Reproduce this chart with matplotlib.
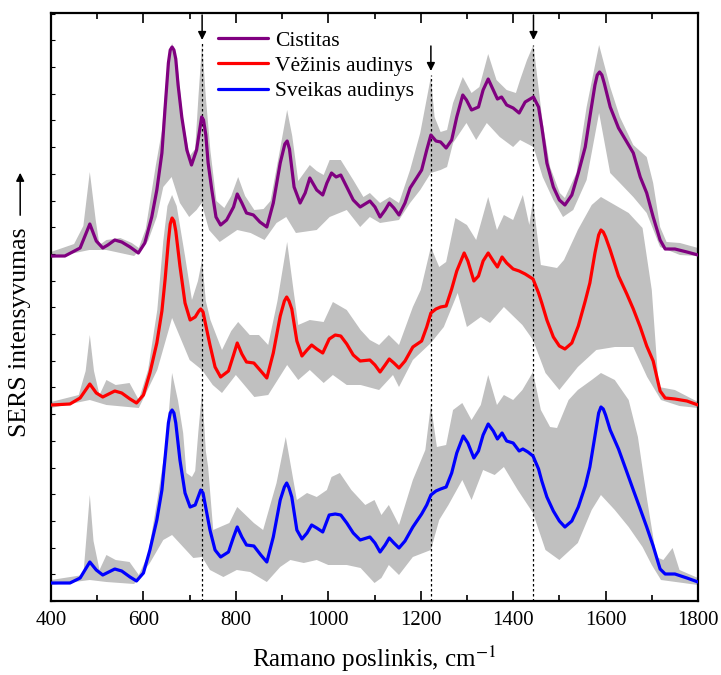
import numpy as np
import matplotlib
matplotlib.use("Agg")
import matplotlib.pyplot as plt
from matplotlib.patches import FancyArrowPatch
from matplotlib.ticker import MultipleLocator

plt.rcParams["font.family"] = ["Liberation Serif", "DejaVu Serif"]
plt.rcParams["mathtext.fontset"] = "stix"

# ── Data (arbitrary intensity units, spectra offset) ──
# Cistitas: mean spectrum, upper and lower edge of the grey band
cis_x = [400, 430, 463, 484, 498, 512, 523, 538, 553, 571, 589, 603, 618, 629, 640, 647, 654,
         658, 662, 666, 670, 675, 683, 694, 704, 715, 722, 726, 730, 735, 740, 748, 757, 767,
         780, 795, 803, 813, 823, 838, 852, 867, 881, 896, 906, 911, 916, 926, 939, 950, 960,
         975, 988, 997, 1007, 1017, 1027, 1040, 1054, 1069, 1090, 1101, 1112, 1123, 1132, 1142,
         1153, 1166, 1177, 1191, 1202, 1213, 1222, 1233, 1243, 1255, 1267, 1278, 1291, 1299,
         1310, 1325, 1335, 1346, 1357, 1366, 1375, 1386, 1400, 1413, 1426, 1444, 1455, 1462,
         1473, 1487, 1500, 1512, 1527, 1541, 1556, 1566, 1577, 1582, 1587, 1592, 1597, 1610,
         1628, 1646, 1660, 1675, 1689, 1703, 1718, 1729, 1750, 1776, 1800]
cis_y = [345, 345, 353, 377, 360, 353, 356, 361, 359, 354, 348, 358, 384, 411, 448, 494, 538,
         551, 554, 551, 542, 516, 484, 451, 436, 451, 472, 484, 481, 466, 438, 411, 384, 376,
         381, 394, 407, 398, 388, 386, 379, 374, 398, 438, 457, 460, 452, 414, 398, 408, 423,
         411, 406, 418, 428, 424, 426, 414, 401, 394, 400, 394, 384, 391, 398, 393,
         386, 398, 413, 423, 431, 451, 466, 460, 459, 453, 461, 484, 506, 501,
         491, 494, 511, 522, 511, 502, 504, 496, 493, 488, 499, 504, 494, 474,
         438, 414, 401, 396, 406, 428, 454, 484, 516, 526, 529, 526, 518, 494,
         473, 459, 448, 424, 408, 384, 361, 352, 352, 349, 346]
cis_up_x = [400, 450, 470, 484, 497, 505, 520, 550, 575, 590, 605, 627, 640, 650, 662, 675, 686,
            700, 712, 719, 727, 735, 745, 758, 775, 790, 805, 820, 840, 860, 875, 895, 911, 922,
            935, 960, 975, 990, 1003, 1027, 1054, 1076, 1090, 1112, 1133, 1153, 1177, 1199, 1222,
            1230, 1243, 1257, 1270, 1291, 1310, 1327, 1346, 1364, 1386, 1406, 1415, 1430, 1444,
            1464, 1480, 1501, 1512, 1537, 1559, 1586, 1610, 1631, 1660, 1689, 1703, 1718, 1732,
            1761, 1800]
cis_up_y = [349, 357, 375, 429, 380, 356, 361, 363, 358, 353, 372, 436, 470, 525, 558, 530, 480,
            445, 452, 504, 558, 504, 450, 400, 393, 405, 424, 405, 391, 392, 400, 450, 491, 465,
            420, 436, 430, 426, 441, 441, 421, 404, 408, 398, 404, 398, 431, 468, 524,
            484, 469, 471, 498, 524, 508, 514, 547, 521, 511, 508, 521, 541, 556,
            478, 434, 408, 403, 428, 494, 556, 514, 484, 456, 444, 418, 374, 359,
            358, 353]
cis_lo_x = [400, 483, 520, 580, 610, 629, 643, 661, 679, 699, 715, 726, 742, 765, 803, 832, 862,
            888, 909, 930, 975, 1003, 1040, 1069, 1090, 1112, 1153, 1177, 1199, 1222, 1243, 1257,
            1270, 1299, 1320, 1343, 1371, 1400, 1415, 1444, 1464, 1487, 1508, 1530, 1559, 1586,
            1610, 1631, 1660, 1689, 1718, 1761, 1800]
cis_lo_y = [343, 351, 351, 345, 360, 384, 414, 424, 398, 384, 391, 398, 371, 359, 371, 368, 361,
            378, 384, 368, 371, 384, 391, 374, 384, 378, 381, 398, 411, 428, 431, 434,
            458, 478, 461, 478, 464, 454, 461, 454, 424, 401, 384, 391, 421, 488,
            428, 418, 404, 388, 354, 346, 345]

# Vėžinis audinys
vez_x = [400, 441, 463, 484, 498, 512, 538, 553, 571, 585, 600, 614, 629, 640, 647, 654, 658,
         662, 666, 670, 679, 690, 701, 712, 720, 724, 729, 733, 744, 755, 767, 784, 795, 803,
         813, 823, 839, 854, 867, 881, 896, 905, 910, 915, 921, 932, 943, 954, 964, 975, 988,
         1002, 1015, 1027, 1040, 1054, 1069, 1090, 1101, 1112, 1123, 1132, 1142, 1153, 1166,
         1183, 1202, 1213, 1222, 1233, 1243, 1255, 1267, 1278, 1294, 1302, 1315, 1325, 1335,
         1346, 1357, 1366, 1376, 1386, 1400, 1413, 1426, 1443, 1455, 1462, 1473, 1487, 1500,
         1512, 1527, 1541, 1556, 1566, 1577, 1585, 1590, 1595, 1600, 1610, 1628, 1646, 1660,
         1675, 1689, 1703, 1718, 1729, 1750, 1776, 1800]
vez_y = [196, 197, 203, 217, 208, 204, 210, 208, 202, 198, 206, 228, 258, 290, 322, 360, 377,
         383, 380, 370, 335, 298, 281, 284, 290, 292, 289, 280, 256, 234, 224, 230, 246, 258,
         247, 239, 238, 230, 223, 248, 285, 300, 304, 300, 292, 260, 245, 251, 256, 252, 248,
         262, 266, 265, 257, 246, 240, 241, 236, 229, 236, 242, 238, 233, 240,
         254, 260, 274, 288, 292, 294, 295, 312, 330, 348, 340, 320, 325, 340,
         348, 340, 334, 344, 338, 332, 330, 327, 322, 308, 298, 281, 264, 255,
         252, 258, 275, 300, 318, 348, 366, 371, 369, 364, 351, 325, 307, 292,
         274, 255, 240, 210, 203, 202, 200, 196]
vez_up_x = [400, 460, 475, 484, 493, 505, 520, 540, 570, 590, 610, 630, 643, 652, 662, 672, 690,
            705, 718, 727, 735, 745, 770, 790, 805, 830, 850, 870, 890, 911, 925, 935, 960, 990,
            1010, 1040, 1070, 1090, 1110, 1131, 1153, 1183, 1200, 1222, 1240, 1255, 1275, 1300,
            1320, 1346, 1365, 1380, 1400, 1421, 1435, 1443, 1460, 1495, 1510, 1540, 1570, 1590,
            1620, 1650, 1680, 1700, 1715, 1750, 1800]
vez_up_y = [199, 206, 230, 266, 230, 206, 221, 216, 218, 201, 231, 291, 360, 395, 406, 395, 345,
            301, 320, 341, 300, 281, 251, 270, 279, 266, 266, 256, 300, 359, 310, 276, 281, 279,
            299, 291, 271, 261, 256, 266, 256, 294, 311, 354, 334, 339, 383, 376,
            361, 404, 371, 386, 381, 406, 376, 401, 336, 333, 341, 371, 396, 404,
            396, 388, 373, 311, 214, 211, 199]
vez_lo_x = [400, 484, 520, 590, 630, 662, 700, 727, 750, 770, 800, 840, 870, 911, 935, 960, 990,
            1010, 1040, 1070, 1110, 1140, 1153, 1183, 1222, 1250, 1280, 1300, 1330, 1350, 1380,
            1420, 1443, 1470, 1500, 1540, 1580, 1620, 1660, 1690, 1720, 1760, 1800]
vez_lo_y = [193, 201, 196, 193, 231, 283, 241, 231, 216, 208, 226, 204, 206, 236, 221, 231, 218,
            226, 216, 216, 211, 226, 214, 241, 258, 274, 308, 274, 284, 278, 294,
            276, 261, 228, 211, 234, 251, 254, 254, 224, 201, 195, 193]

# Sveikas audinys
sve_x = [400, 441, 463, 484, 498, 512, 538, 553, 571, 585, 600, 614, 629, 640, 647, 654, 658,
         662, 666, 670, 679, 690, 701, 712, 720, 724, 729, 733, 744, 755, 767, 784, 795, 803,
         813, 823, 839, 854, 867, 881, 896, 905, 910, 915, 921, 932, 943, 954, 964, 975, 988,
         1002, 1015, 1027, 1040, 1054, 1069, 1090, 1101, 1112, 1123, 1132, 1142, 1153, 1166,
         1183, 1202, 1213, 1222, 1233, 1243, 1255, 1267, 1278, 1292, 1302, 1315, 1325, 1335,
         1346, 1357, 1366, 1376, 1386, 1400, 1413, 1421, 1432, 1443, 1455, 1462, 1473, 1487,
         1500, 1512, 1527, 1541, 1556, 1566, 1577, 1585, 1590, 1595, 1600, 1610, 1628, 1646,
         1660, 1675, 1689, 1703, 1718, 1729, 1750, 1776, 1800]
sve_y = [18, 18, 23, 39, 31, 26, 32, 30, 24, 20, 28, 51, 81, 111, 144, 178, 188,
         191, 188, 178, 141, 108, 94, 96, 106, 111, 108, 98, 71, 51, 44, 49, 64, 74,
         64, 56, 55, 46, 39, 64, 101, 114, 118, 113, 104, 71, 62, 68, 76, 73, 69,
         86, 87, 86, 78, 68, 61, 64, 58, 49, 56, 63, 58, 53, 60,
         74, 87, 96, 106, 110, 112, 114, 128, 148, 165, 158, 143, 150, 166,
         177, 170, 162, 168, 160, 158, 150, 152, 149, 145, 132, 120, 104, 90,
         80, 74, 80, 94, 115, 134, 165, 188, 194, 192, 186, 171, 152, 129,
         111, 92, 74, 55, 32, 27, 27, 23, 19]
sve_up_x = [400, 470, 476, 484, 492, 505, 520, 540, 570, 590, 610, 630, 650, 662, 675, 686, 693,
            705, 712, 719, 727, 735, 740, 751, 786, 803, 839, 859, 888, 908, 932, 954, 975, 997,
            1007, 1025, 1050, 1080, 1100, 1115, 1131, 1153, 1183, 1210, 1222, 1235, 1255, 1270,
            1290, 1310, 1330, 1346, 1365, 1380, 1400, 1420, 1443, 1460, 1480, 1495, 1520, 1540,
            1570, 1590, 1620, 1650, 1670, 1690, 1710, 1725, 1745, 1760, 1800]
sve_up_y = [21, 26, 60, 106, 60, 31, 46, 41, 39, 26, 46, 101, 161, 228, 200, 168, 128,
            124, 130, 170, 210, 150, 134, 71, 78, 94, 78, 71, 118, 164, 101, 108, 104, 111,
            124, 128, 111, 96, 101, 86, 96, 76, 121, 151, 196, 154, 156, 191,
            198, 181, 196, 226, 196, 206, 201, 211, 229, 191, 174, 173, 201, 211,
            221, 228, 221, 201, 164, 101, 44, 41, 53, 31, 23]
sve_lo_x = [400, 484, 520, 580, 614, 643, 662, 686, 708, 727, 744, 773, 802, 831, 867, 896, 918,
            947, 975, 1000, 1040, 1070, 1100, 1115, 1131, 1153, 1183, 1222, 1240, 1260, 1290,
            1310, 1335, 1360, 1380, 1410, 1443, 1470, 1500, 1540, 1570, 1590, 1620, 1650, 1680,
            1700, 1720, 1800]
sve_lo_y = [16, 21, 19, 17, 38, 61, 66, 54, 43, 44, 31, 24, 31, 29, 19, 34, 41,
            38, 41, 36, 36, 33, 18, 23, 36, 26, 44, 51, 81, 96, 121,
            101, 131, 126, 134, 111, 88, 51, 41, 58, 91, 106, 91, 74, 54,
            36, 21, 16]

labels = ["Cistitas", "Vėžinis audinys", "Sveikas audinys"]
colors = ["#800080", "#ff0000", "#0000ff"]
marked_bands = [727, 1222, 1444]
arrow_tops = [586, 555, 586]
arrow_tips = [561, 530, 561]
line_tops = [558, 526, 556]

series = [
    (cis_x, cis_y, cis_up_x, cis_up_y, cis_lo_x, cis_lo_y),
    (vez_x, vez_y, vez_up_x, vez_up_y, vez_lo_x, vez_lo_y),
    (sve_x, sve_y, sve_up_x, sve_up_y, sve_lo_x, sve_lo_y),
]

# ── Figure ────────────────────────────────────────────────────────────────────
fig = plt.figure(figsize=(7.21, 6.75), dpi=100)
ax = fig.add_axes([51 / 721, 74 / 675, 647 / 721, 588 / 675])

# grey bands first, mean spectra on top
for (x, y, ux, uy, lx, ly) in series:
    poly_x = np.r_[ux, lx[::-1]]
    poly_y = np.r_[uy, ly[::-1]]
    ax.fill(poly_x, poly_y, color="#c0c0c0", lw=0, zorder=1)

for (x, y, *_), lab, c in zip(series, labels, colors):
    ax.plot(x, y, color=c, lw=2.3, label=lab, zorder=3,
            solid_joinstyle="round", solid_capstyle="round")

# marked bands: dotted guide + arrow
for xb, top, tip, lt in zip(marked_bands, arrow_tops, arrow_tips, line_tops):
    ax.plot([xb, xb], [0, lt], ls=(0, (2, 2)), color="black", lw=0.9, zorder=2)
    ax.annotate("", xy=(xb, tip), xytext=(xb, top),
                arrowprops=dict(arrowstyle="-|>", color="black", lw=1.1,
                                mutation_scale=12, shrinkA=0, shrinkB=0))

ax.set_xlim(400, 1800)
ax.set_ylim(0, 588)
ax.xaxis.set_major_locator(MultipleLocator(200))
ax.xaxis.set_minor_locator(MultipleLocator(100))
ax.yaxis.set_major_locator(MultipleLocator(26.7))
ax.set_yticklabels([])
ax.tick_params(axis="x", which="major", direction="in", top=True, length=7, width=1.2,
               labelsize=15, pad=7)
ax.tick_params(axis="x", which="minor", direction="in", top=True, length=4, width=1.2)
ax.tick_params(axis="y", which="major", direction="in", left=True, right=False, length=3,
               width=0.8)
for s in ax.spines.values():
    s.set_linewidth(1.6)

ax.set_xlabel("Ramano poslinkis, cm$^{-1}$", fontsize=18, labelpad=10)

ax.legend(loc="upper left", bbox_to_anchor=(0.245, 0.985), frameon=False,
          fontsize=15.5, handlelength=2.3, handletextpad=0.35, labelspacing=0.25,
          borderaxespad=0)

fig.text(0.028, 0.508, "SERS intensyvumas", rotation=90, ha="center", va="center",
         fontsize=18.5)
fig.patches.append(FancyArrowPatch(
    (0.028, 1 - 218 / 675), (0.028, 1 - 170 / 675), transform=fig.transFigure,
    arrowstyle="-|>", mutation_scale=12, color="black", lw=1.1))

fig.savefig("out.png", dpi=100)
